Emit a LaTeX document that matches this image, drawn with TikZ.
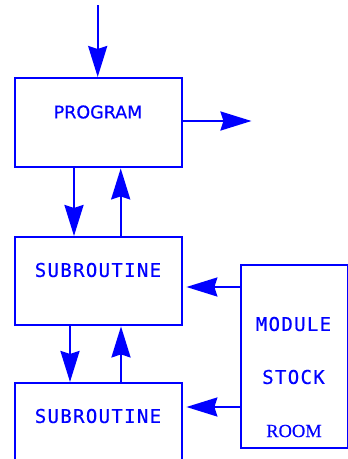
\documentclass[tikz,border=0pt]{standalone}
\usepackage{fontspec}
\usetikzlibrary{arrows.meta}
\newfontfamily\progfont[FakeBold=0.6]{DejaVu Sans}
\newfontfamily\monofnt[LetterSpace=7,FakeBold=0.6]{DejaVu Sans Mono}
\newfontfamily\serfnt[FakeBold=0.4]{Liberation Serif}
\definecolor{pblue}{RGB}{0,0,255}
\tikzset{
  box/.style={draw=pblue, line width=2.4pt, inner sep=0pt, anchor=north west},
  lbl/.style={text=pblue, inner sep=0pt, font=\monofnt\fontsize{19}{19}\selectfont},
  arr/.style={draw=pblue, line width=2.4pt, -{Stealth[length=31pt,width=19pt,inset=3pt]}}
}
\begin{document}
\begin{tikzpicture}[x=1pt,y=-1pt]
\useasboundingbox (0,0) rectangle (348,459);
\clip (0,0) rectangle (348,459);
% boxes
\node[box, minimum width=167pt, minimum height=89pt] (prog) at (14,77) {};
\node[box, minimum width=167pt, minimum height=88pt] (sub1) at (14,236) {};
\node[box, minimum width=167pt, minimum height=100pt] (sub2) at (14,382) {};
\node[box, minimum width=107pt, minimum height=183pt] (mod) at (240,264) {};
% labels
\node[lbl, font=\progfont\fontsize{17.5}{17.5}\selectfont] (tprog) at (98,112) {PROGRAM};
\node[lbl] (tsub1) at (98,270) {SUBROUTINE};
\node[lbl] (tsub2) at (98,416) {SUBROUTINE};
\node[lbl] (tmod) at (293.5,324) {MODULE};
\node[lbl] (tstock) at (293.5,377) {STOCK};
\node[lbl, font=\serfnt\fontsize{18.5}{18.5}\selectfont] (troom) at (294,431) {ROOM};
% free ends
\coordinate (in) at (97.7,5);
\coordinate (out) at (251.5,121);
% connectors
\draw[arr] (in) -- (in |- prog.north);
\draw[arr] (prog.east |- out) -- (out);
\draw[arr] (prog.south -| 74,0) -- (sub1.north -| 74,0);
\draw[arr] (sub1.north -| 120.7,0) -- (prog.south -| 120.7,0);
\draw[arr] (sub1.south -| 70,0) -- (sub2.north -| 70,0);
\draw[arr] (sub2.north -| 121,0) -- (sub1.south -| 121,0);
\draw[arr] (mod.west |- 0,287) -- ([xshift=3pt]sub1.east |- 0,287);
\draw[arr] (mod.west |- 0,407) -- ([xshift=3pt]sub2.east |- 0,407);
\end{tikzpicture}
\end{document}
